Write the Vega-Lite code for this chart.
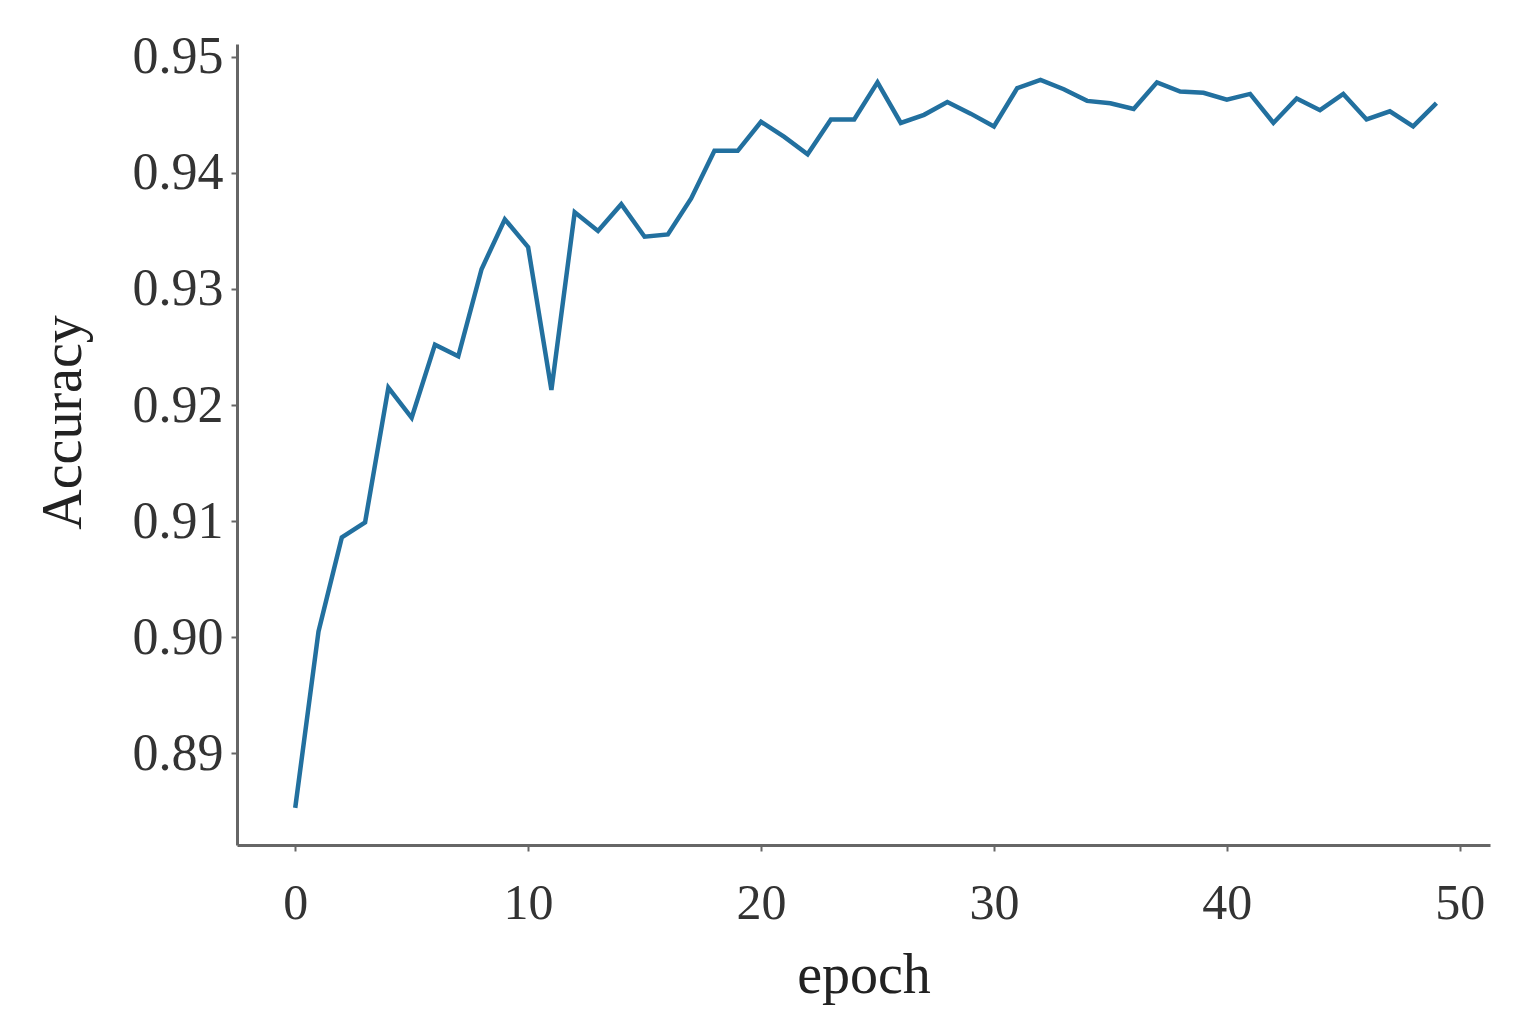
{
  "$schema": "https://vega.github.io/schema/vega-lite/v6.json",
  "width": 1253,
  "height": 801,
  "autosize": {"type": "none"},
  "padding": {"left": 237, "top": 44, "right": 40, "bottom": 185},
  "background": "white",
  "config": {
    "view": {"stroke": null},
    "font": "Liberation Serif"
  },
  "data": {
    "values": [
      {"epoch": 0, "acc": 0.8853},
      {"epoch": 1, "acc": 0.9005},
      {"epoch": 2, "acc": 0.9086},
      {"epoch": 3, "acc": 0.9099},
      {"epoch": 4, "acc": 0.9215},
      {"epoch": 5, "acc": 0.9189},
      {"epoch": 6, "acc": 0.9252},
      {"epoch": 7, "acc": 0.9242},
      {"epoch": 8, "acc": 0.9317},
      {"epoch": 9, "acc": 0.9360},
      {"epoch": 10, "acc": 0.9336},
      {"epoch": 11, "acc": 0.9213},
      {"epoch": 12, "acc": 0.9366},
      {"epoch": 13, "acc": 0.9350},
      {"epoch": 14, "acc": 0.9373},
      {"epoch": 15, "acc": 0.9345},
      {"epoch": 16, "acc": 0.9347},
      {"epoch": 17, "acc": 0.9378},
      {"epoch": 18, "acc": 0.9419},
      {"epoch": 19, "acc": 0.9419},
      {"epoch": 20, "acc": 0.9444},
      {"epoch": 21, "acc": 0.9431},
      {"epoch": 22, "acc": 0.9416},
      {"epoch": 23, "acc": 0.9446},
      {"epoch": 24, "acc": 0.9446},
      {"epoch": 25, "acc": 0.9478},
      {"epoch": 26, "acc": 0.9443},
      {"epoch": 27, "acc": 0.9450},
      {"epoch": 28, "acc": 0.9461},
      {"epoch": 29, "acc": 0.9451},
      {"epoch": 30, "acc": 0.9440},
      {"epoch": 31, "acc": 0.9473},
      {"epoch": 32, "acc": 0.9480},
      {"epoch": 33, "acc": 0.9472},
      {"epoch": 34, "acc": 0.9462},
      {"epoch": 35, "acc": 0.9460},
      {"epoch": 36, "acc": 0.9455},
      {"epoch": 37, "acc": 0.9478},
      {"epoch": 38, "acc": 0.9470},
      {"epoch": 39, "acc": 0.9469},
      {"epoch": 40, "acc": 0.9463},
      {"epoch": 41, "acc": 0.9468},
      {"epoch": 42, "acc": 0.9443},
      {"epoch": 43, "acc": 0.9464},
      {"epoch": 44, "acc": 0.9454},
      {"epoch": 45, "acc": 0.9468},
      {"epoch": 46, "acc": 0.9446},
      {"epoch": 47, "acc": 0.9453},
      {"epoch": 48, "acc": 0.9440},
      {"epoch": 49, "acc": 0.9460}
    ]
  },
  "mark": {"type": "line", "color": "#22709f", "strokeWidth": 4.5},
  "encoding": {
    "x": {
      "field": "epoch",
      "type": "quantitative",
      "scale": {"domain": [-2.5, 51.3], "nice": false, "zero": false},
      "axis": {
        "title": "epoch",
        "values": [0, 10, 20, 30, 40, 50],
        "grid": false,
        "domainColor": "#666666",
        "domainWidth": 3,
        "tickColor": "#666666",
        "tickWidth": 2,
        "tickSize": 6,
        "labelFont": "Liberation Serif",
        "labelFontSize": 50,
        "labelColor": "#333333",
        "labelPadding": 27,
        "titleFont": "Liberation Serif",
        "titleFontSize": 56,
        "titleFontWeight": "normal",
        "titleColor": "#222222",
        "titlePadding": 20
      }
    },
    "y": {
      "field": "acc",
      "type": "quantitative",
      "scale": {"domain": [0.8821, 0.9511], "nice": false, "zero": false},
      "axis": {
        "title": "Accuracy",
        "values": [0.89, 0.90, 0.91, 0.92, 0.93, 0.94, 0.95],
        "format": ".2f",
        "grid": false,
        "domainColor": "#666666",
        "domainWidth": 3,
        "tickColor": "#666666",
        "tickWidth": 2,
        "tickSize": 6,
        "labelFont": "Liberation Serif",
        "labelFontSize": 52,
        "labelColor": "#333333",
        "labelPadding": 8,
        "titleFont": "Liberation Serif",
        "titleFontSize": 56,
        "titleFontWeight": "normal",
        "titleColor": "#222222",
        "titlePadding": 40,
        "titleY": 378
      }
    }
  }
}
